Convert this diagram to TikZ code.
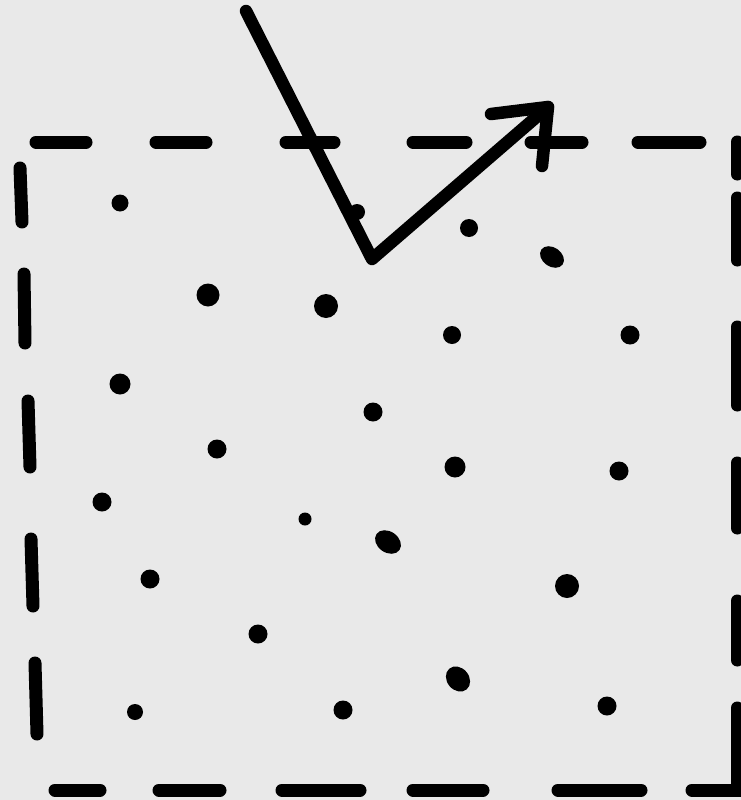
\documentclass[tikz,border=0pt]{standalone}
\definecolor{bg}{HTML}{E9E9E9}
\begin{document}
\begin{tikzpicture}[x=1pt,y=-1pt,
  dashseg/.style={line width=13pt,line cap=round},
  stroke/.style={line width=12.5pt,line cap=round,line join=round},
  dot/.style={fill=black}]
\fill[bg] (0,0) rectangle (741,800);
\useasboundingbox (0,0) rectangle (741,800);
% top dashes
\foreach \a/\b in {36/86,156/206,286/334,413/466,531/582,638/700}
  \draw[dashseg] (\a,142) -- (\b,142);
% bottom dashes
\foreach \a/\b in {55/100,159/220,282/360,413/483,558/641}
  \draw[dashseg] (\a,790) -- (\b,790);
\draw[dashseg] (692,790) -- (737,790) -- (737,708);
% left dashes
\draw[dashseg] (20,168) -- (22,222);
\draw[dashseg] (24,274) -- (25,343);
\draw[dashseg] (28,401) -- (30,467);
\draw[dashseg] (31,539) -- (33,606);
\draw[dashseg] (35,663) -- (37,734);
% right dashes
\foreach \a/\b in {142/174,198/260,327/405,463/528,601/660}
  \draw[dashseg] (737,\a) -- (737,\b);
% arrow
\coordinate (s) at (246,11);
\coordinate (v) at (372,259);
\coordinate (t) at (548,107);
\coordinate (h1) at (491,114);
\coordinate (h2) at (542,166);
\draw[stroke] (s) -- (v) -- (t);
\draw[stroke] (h1) -- (t) -- (h2);
% dots
\foreach \x/\y/\r in {120/203/8.5,357/212/8,469/228/9,208/295/11.5,326/306/12,452/335/9,630/335/9.5,120/384/10.5,373/412/9.5,217/449/9.5,455/467/10.5,619/471/9.5,102/502/9.5,305/519/6.5,150/579/9.5,567/586/12,258/634/9.5,135/712/8,343/710/9.5,607/706/9.5}
  \fill[dot] (\x,\y) circle (\r);
\fill[dot,rotate around={-35:(552,257)}] (552,257) ellipse (13 and 9.5);
\fill[dot,rotate around={-35:(388,542)}] (388,542) ellipse (14 and 10.5);
\fill[dot,rotate around={-50:(458,679)}] (458,679) ellipse (13.5 and 11);
\end{tikzpicture}
\end{document}
